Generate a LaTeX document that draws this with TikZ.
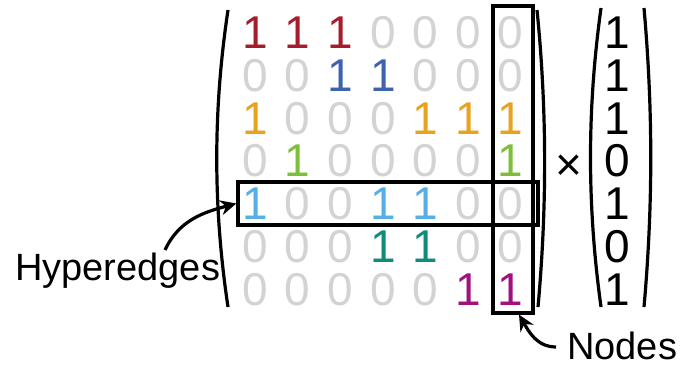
\documentclass[tikz,border=0pt]{standalone}
\usepackage{fontspec}
\setmainfont{Liberation Sans}
\usetikzlibrary{arrows.meta}
\definecolor{cred}{RGB}{166,28,44}
\definecolor{cblue}{RGB}{62,98,173}
\definecolor{corange}{RGB}{232,162,30}
\definecolor{cgreen}{RGB}{125,191,58}
\definecolor{csky}{RGB}{86,174,231}
\definecolor{cteal}{RGB}{15,140,122}
\definecolor{cmagenta}{RGB}{160,17,127}
\definecolor{zgray}{RGB}{211,211,211}
\begin{document}
\begin{tikzpicture}[x=1pt,y=-1pt,
  digit/.style={inner sep=0pt, font=\fontsize{46}{46}\selectfont},
  caption/.style={inner sep=0pt, font=\fontsize{38}{38}\selectfont},
  frame/.style={draw, line width=3.2pt, inner sep=0pt},
  paren/.style={line width=3.2pt},
  arr/.style={line width=3.2pt, -{Stealth[length=16pt,width=15pt]}}]
\useasboundingbox (0,0) rectangle (682,366);

% incidence matrix, one colour per hyperedge row
\foreach \ri/\c/\bits in {0/cred/{1,1,1,0,0,0,0},
                          1/cblue/{0,0,1,1,0,0,0},
                          2/corange/{1,0,0,0,1,1,1},
                          3/cgreen/{0,1,0,0,0,0,1},
                          4/csky/{1,0,0,1,1,0,0},
                          5/cteal/{0,0,0,1,1,0,0},
                          6/cmagenta/{0,0,0,0,0,1,1}}{
  \foreach \b [count=\j from 0] in \bits {
    \ifnum\b=1 \edef\col{\c}\else\def\col{zgray}\fi
    \node[digit, text=\col] (m-\ri-\j) at ({255+42.6*\j},{33+42.7*\ri}) {\b};
  }
}

% vector
\foreach \b [count=\k from 0] in {1,1,1,0,1,0,1}
  \node[digit] (v-\k) at (617,{33+42.7*\k}) {\b};

\node[digit] (times) at (569,168) {×};

% parentheses
\draw[paren] (228,10) .. controls (213,110) and (213,207) .. (228,307);
\draw[paren] (537,10) .. controls (547,110) and (547,207) .. (538,307);
\draw[paren] (601,8) .. controls (587,110) and (587,205) .. (601,307);
\draw[paren] (644,8) .. controls (653,110) and (653,205) .. (644,307);

% highlight boxes
\node[frame, minimum width=300pt, minimum height=43pt] (hedge) at (388,203.5) {};
\node[frame, minimum width=40pt, minimum height=307pt] (nbox) at (513,159.5) {};

% captions and pointers
\node[caption, anchor=base west] (hyp) at (15,280) {Hyperedges};
\node[caption, anchor=base west] (nodes) at (567,359) {Nodes};
\coordinate (hstart) at (165,250);
\coordinate (nstart) at (556,347);
\draw[arr] (hstart) to[out=65,in=195] (hedge.west);
\draw[arr] (nstart) to[out=180,in=-60] ([xshift=6pt]nbox.south);
\end{tikzpicture}
\end{document}
